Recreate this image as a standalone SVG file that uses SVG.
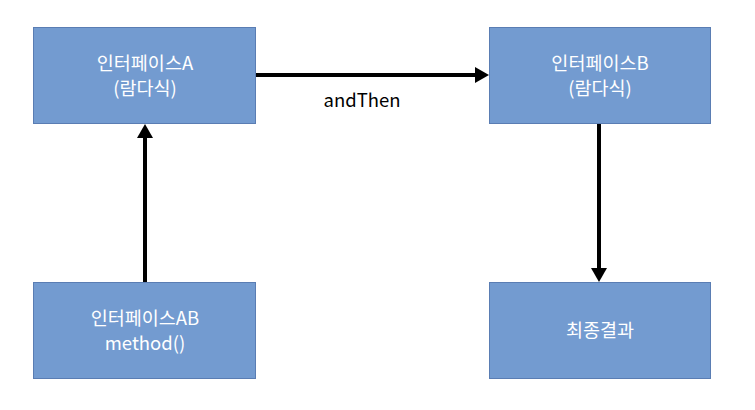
<svg xmlns="http://www.w3.org/2000/svg" width="755" height="410" viewBox="0 0 755 410">
<style>
.box{fill:#739bd0;stroke:#5a7db3;stroke-width:1}
.t{font-family:"Noto Sans CJK KR","Liberation Sans",sans-serif;font-size:18.5px;fill:#ffffff;text-anchor:middle}
.lbl{font-family:"Noto Sans CJK KR","Liberation Sans",sans-serif;font-size:18.5px;fill:#000000;text-anchor:middle}
.c{stroke:#000;stroke-width:4;fill:none}
</style>
<defs>
<marker id="ah" markerWidth="4" markerHeight="4" refX="2" refY="2" orient="auto" markerUnits="strokeWidth">
<path d="M0,0 L3.5,2 L0,4 Z" fill="#000"/>
</marker>
</defs>
<rect width="755" height="410" fill="#fff"/>
<g id="nodeA"><rect class="box" x="33.5" y="27.5" width="222" height="96"/><text class="t" x="145" y="70">인터페이스A</text><text class="t" x="145" y="95">(람다식)</text></g>
<g id="nodeB"><rect class="box" x="489.5" y="27.5" width="221" height="96"/><text class="t" x="600" y="70">인터페이스B</text><text class="t" x="600" y="95">(람다식)</text></g>
<g id="nodeAB"><rect class="box" x="33.5" y="282.5" width="222" height="96"/><text class="t" x="145" y="325">인터페이스AB</text><text class="t" x="145" y="350">method()</text></g>
<g id="nodeFinal"><rect class="box" x="489.5" y="282.5" width="221" height="96"/><text class="t" x="600" y="337">최종결과</text></g>
<g id="connectors">
<line class="c" x1="256" y1="75" x2="483" y2="75" marker-end="url(#ah)"/>
<line class="c" x1="145" y1="282" x2="145" y2="130" marker-end="url(#ah)"/>
<line class="c" x1="599" y1="124" x2="599" y2="276" marker-end="url(#ah)"/>
<text class="lbl" x="362" y="107">andThen</text>
</g>
</svg>
